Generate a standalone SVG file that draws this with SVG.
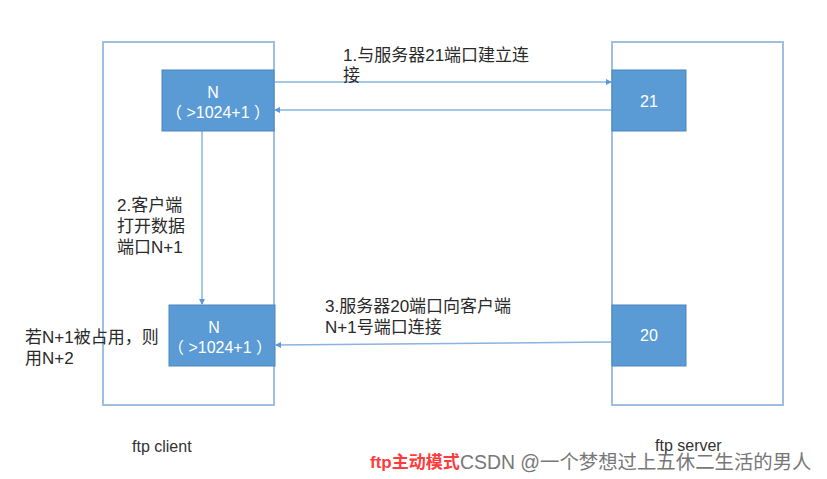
<svg xmlns="http://www.w3.org/2000/svg" width="827" height="479" viewBox="0 0 827 479">
<style>
.frame{fill:#fff;stroke:#9fbfe0;stroke-width:2}
.box{fill:#5b9bd5;stroke:#4a86c0;stroke-width:1}
.bt{font-family:"Liberation Sans","Noto Sans CJK SC",sans-serif;font-size:16px;fill:#fff;text-anchor:middle}
.lbl{font-family:"Liberation Sans","Noto Sans CJK SC",sans-serif;font-size:17px;fill:#2a2a2a}
.cap{font-family:"Liberation Sans","Noto Sans CJK SC",sans-serif;font-size:16px;fill:#333}
.ln{stroke:#8ab4e0;stroke-width:1.5;fill:none;marker-end:url(#ah)}
</style>
<defs>
<marker id="ah" markerWidth="6" markerHeight="6" refX="5" refY="3" orient="auto" markerUnits="userSpaceOnUse">
<path d="M0,0 L6,3 L0,6 z" fill="#5b9bd5"/>
</marker>
</defs>
<rect width="827" height="479" fill="#fff"/>
<g id="client">
<rect class="frame" x="103" y="42" width="171" height="363"/>
</g>
<g id="server">
<rect class="frame" x="612" y="42" width="171" height="363"/>
</g>
<g id="connectors">
<line class="ln" x1="274" y1="82" x2="611" y2="82"/>
<line class="ln" x1="612" y1="110" x2="275" y2="110"/>
<line class="ln" x1="202" y1="131" x2="202" y2="304"/>
<line class="ln" x1="611" y1="342" x2="276" y2="345"/>
</g>
<g id="nodeN1">
<rect class="box" x="162" y="70" width="112" height="61"/>
<text class="bt" x="213" y="98">N</text>
<text class="bt" x="218" y="118">（ &gt;1024+1 ）</text>
</g>
<g id="node21">
<rect class="box" x="612" y="70" width="74" height="61"/>
<text class="bt" x="649" y="107">21</text>
</g>
<g id="nodeN2">
<rect class="box" x="169" y="305" width="106" height="61"/>
<text class="bt" x="214" y="333">N</text>
<text class="bt" x="220" y="353">（ &gt;1024+1 ）</text>
</g>
<g id="node20">
<rect class="box" x="612" y="305" width="74" height="61"/>
<text class="bt" x="649" y="341">20</text>
</g>
<g id="labels">
<text class="lbl" x="343" y="61">1.与服务器21端口建立连</text>
<text class="lbl" x="343" y="81">接</text>
<text class="lbl" x="117" y="211">2.客户端</text>
<text class="lbl" x="117" y="232">打开数据</text>
<text class="lbl" x="117" y="253">端口N+1</text>
<text class="lbl" x="25" y="343">若N+1被占用，则</text>
<text class="lbl" x="25" y="364">用N+2</text>
<text class="lbl" x="325" y="312">3.服务器20端口向客户端</text>
<text class="lbl" x="325" y="333">N+1号端口连接</text>
<text class="cap" x="132" y="452">ftp client</text>
<text class="cap" x="655" y="451">ftp server</text>
<text x="370" y="468" font-family="Liberation Sans,'Noto Sans CJK SC',sans-serif" font-size="17" font-weight="bold" fill="#ff3b3b">ftp主动模式</text>
<text x="460" y="469" font-family="Liberation Sans,'Noto Sans CJK SC',sans-serif" font-size="19.4" fill="#777">CSDN @一个梦想过上五休二生活的男人</text>
</g>
</svg>
